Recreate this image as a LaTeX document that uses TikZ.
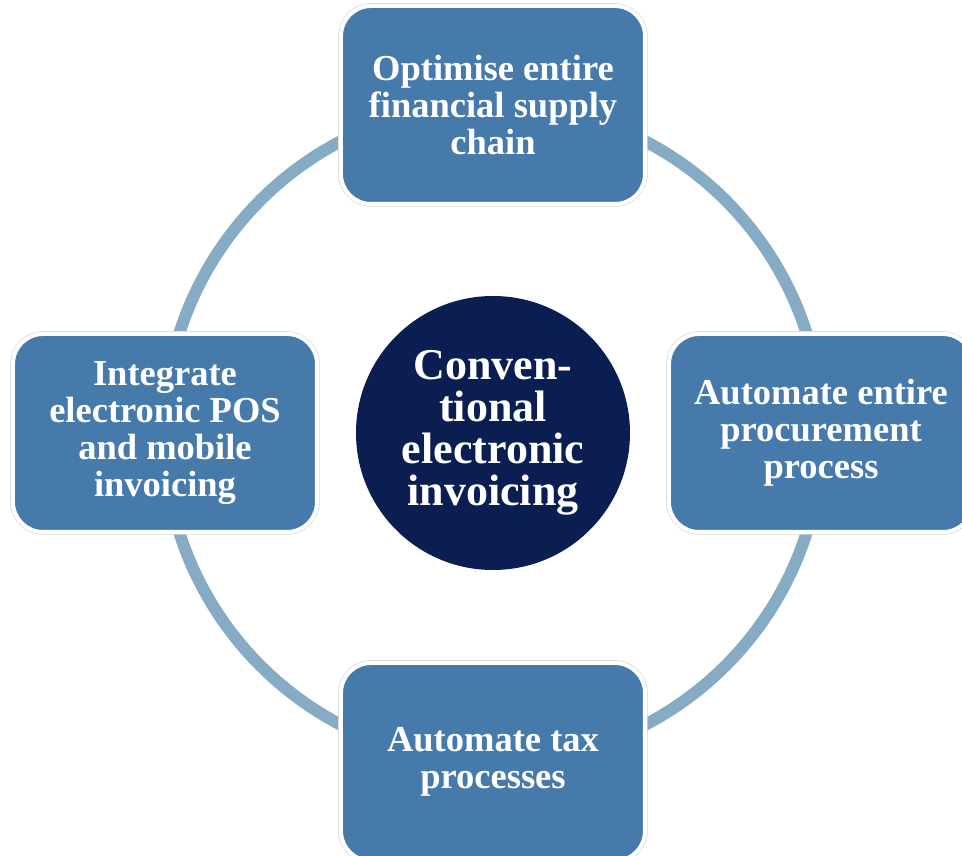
\documentclass[tikz,border=0pt]{standalone}
\usepackage{fontspec}
\setmainfont{Liberation Serif}
\definecolor{boxblue}{RGB}{70,122,171}
\definecolor{hubnavy}{RGB}{10,30,82}
\definecolor{ringblue}{RGB}{134,171,196}
\tikzset{
  stagebox/.style={rectangle, rounded corners=30pt, fill=boxblue, draw=white,
    line width=4pt, preaction={draw=black!15, line width=5.5pt},
    minimum width=304pt, minimum height=198pt, text=white, align=center,
    font=\fontsize{36.5}{37}\selectfont\bfseries},
  hub/.style={circle, fill=hubnavy, minimum size=274pt, inner sep=0pt,
    text=white, align=center, font=\fontsize{44}{42}\selectfont\bfseries},
  ring/.style={draw=ringblue, line width=12pt}
}
\begin{document}
\begin{tikzpicture}[x=1pt,y=1pt]
      \useasboundingbox (-493,-423) rectangle (469,433);
      \clip (-493,-423) rectangle (469,433);
      \node[hub] (hub) at (0,0) {Conven-\\tional\\electronic\\invoicing};
      \draw[ring] (hub.center) circle[radius=329pt];
      \draw
        (90:328) node[stagebox] (chain) {Optimise entire\\financial supply\\chain}
        (0:328) node[stagebox] (procure) {Automate entire\\procurement\\process}
        (270:329) node[stagebox] (tax) {Automate tax\\processes}
        (180:328) node[stagebox] (pos) {Integrate\\electronic POS\\and mobile\\invoicing};
    \end{tikzpicture}
\end{document}
